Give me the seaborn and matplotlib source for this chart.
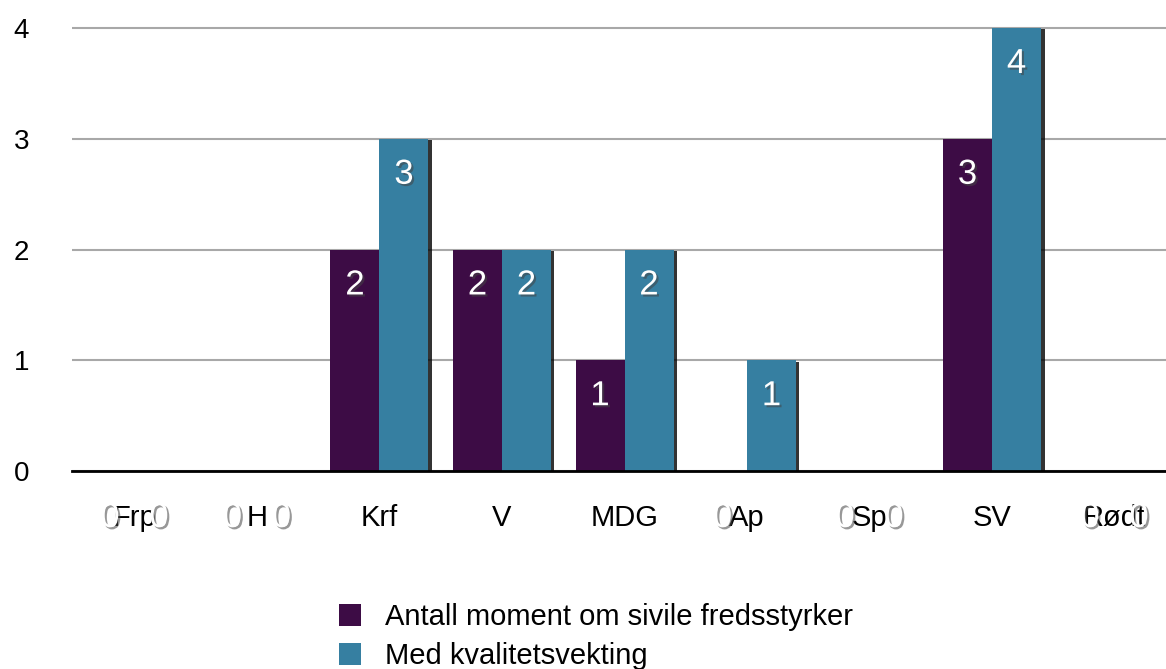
import pandas as pd
import matplotlib
matplotlib.use("Agg")
import matplotlib.pyplot as plt
import matplotlib.patheffects as pe
import seaborn as sns

# ── Data ───────────────────────────────────────────────────────────
parties = ["Frp", "H", "Krf", "V", "MDG", "Ap", "Sp", "SV", "Rødt"]
antall = [0, 0, 2, 2, 1, 0, 0, 3, 0]
vektet = [0, 0, 3, 2, 2, 1, 0, 4, 0]
series = ["Antall moment om sivile fredsstyrker", "Med kvalitetsvekting"]
colors = ["#3D0C45", "#367FA1"]

df = pd.DataFrame({
    "parti": parties * 2,
    "verdi": antall + vektet,
    "serie": [series[0]] * len(parties) + [series[1]] * len(parties),
})

# ── Style ──────────────────────────────────────────────────────────
sns.set_theme(style="white")
plt.rcParams["font.family"] = ["Liberation Sans", "DejaVu Sans"]

fig = plt.figure(figsize=(11.66, 6.69), dpi=100)
ax = fig.add_axes([72 / 1166, 198 / 669, (1166 - 72) / 1166, 454 / 669])

sns.barplot(data=df, x="parti", y="verdi", hue="serie", palette=colors,
            width=0.8, saturation=1, linewidth=0, ax=ax, zorder=3, legend=True)

ax.set_xlim(-0.51, 8.42)
ax.set_ylim(0, 4.1)
ax.set_yticks([0, 1, 2, 3, 4])
ax.yaxis.grid(True, color="#A8A8A8", lw=1.5, zorder=0)
ax.set_xlabel("")
ax.set_ylabel("")
for s in ["top", "right", "left"]:
    ax.spines[s].set_visible(False)
ax.spines["bottom"].set_color("black")
ax.spines["bottom"].set_linewidth(2)
ax.spines["bottom"].set_zorder(5)
ax.tick_params(axis="y", length=0, pad=31, labelsize=20, labelcolor="black")
ax.tick_params(axis="x", length=0, pad=24, labelsize=21, labelcolor="black")

shadow = [pe.SimplePatchShadow(offset=(2.5, -1), shadow_rgbFace="black", alpha=0.8), pe.Normal()]
txt_fx = [pe.SimplePatchShadow(offset=(1.5, -1.5), shadow_rgbFace="#444444", alpha=0.55), pe.Normal()]

for cont in ax.containers:
    for bar in cont:
        h = bar.get_height()
        xc = bar.get_x() + bar.get_width() / 2
        if h > 0:
            bar.set_path_effects(shadow)
            y = h - 0.32
        else:
            y = -0.42
        ax.text(xc, y, f"{h:.0f}", ha="center", va="center", color="white",
                fontsize=25, zorder=6, clip_on=False, path_effects=txt_fx)

leg = ax.legend(loc="upper left", bbox_to_anchor=(313 / 1166, 1 - 577 / 669),
                bbox_transform=fig.transFigure, frameon=False, fontsize=21,
                handlelength=0.76, handleheight=0.76, handletextpad=0.8,
                labelspacing=0.38, labelcolor="black")

fig.savefig("out.png", dpi=100)
